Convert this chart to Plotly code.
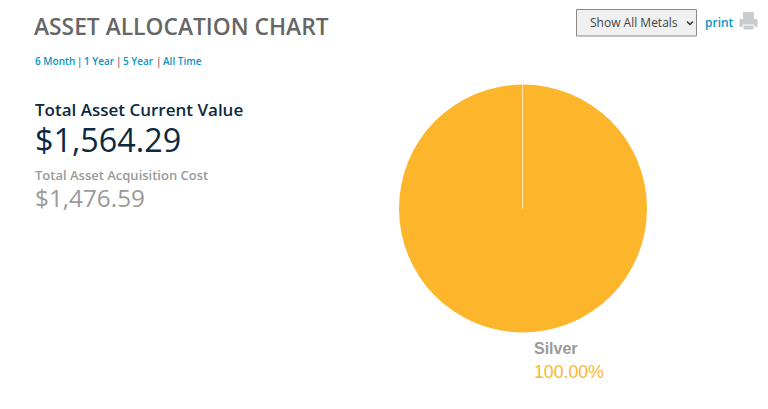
import plotly.graph_objects as go

W, H = 768, 409

# Data
metals = ["Silver"]
allocation_pct = [100.00]
slice_colors = ["#FDB52B"]
title_text = "ASSET ALLOCATION CHART"
range_links = ["6 Month", "1 Year", "5 Year", "All Time"]
current_label = "Total Asset Current Value"
current_value = "$1,564.29"
cost_label = "Total Asset Acquisition Cost"
cost_value = "$1,476.59"
dropdown_label = "Show All Metals"
print_label = "print"

BLUE = "#0A94C4"
NAVY = "#0B2A42"
GREY = "#9A9A9A"
SANS = "Open Sans"
ARIAL = "Liberation Sans"


def px(x):
    return x / W


def py(y):
    return 1 - y / H


fig = go.Figure(
    go.Pie(
        labels=metals,
        values=allocation_pct,
        marker=dict(colors=slice_colors, line=dict(width=0)),
        textinfo="none",
        sort=False,
        direction="clockwise",
        rotation=0,
        domain=dict(x=[px(399), px(647)], y=[py(333), py(84)]),
        showlegend=False,
    )
)


def text(x, y, s, size, color, family=SANS, weight=400):
    fig.add_annotation(
        x=px(x), y=py(y), xref="paper", yref="paper", text=s,
        showarrow=False, xanchor="left", yanchor="middle",
        font=dict(size=size, color=color, family=family, weight=weight), borderpad=0, borderwidth=0,
    )


text(34, 26.5, title_text, 22.8, "#666666", weight=600)

link_x = [34.5, 84, 123, 163]
sep_x = [76.5, 115.5, 155.5]
for x, label in zip(link_x, range_links):
    text(x, 61, label, 10, BLUE, weight=600)
for x in sep_x:
    text(x, 61, "|", 10, "#444444")

text(34.5, 109.5, current_label, 17, NAVY, weight=600)
text(34.5, 138.5, current_value, 32.3, NAVY)
text(34.5, 175, cost_label, 13, GREY, weight=600)
text(34.5, 197, cost_value, 24.3, GREY)

text(533.5, 348, metals[0], 16, GREY, family=ARIAL, weight=700)
text(533.5, 372, f"{allocation_pct[0]:.2f}%", 17.7, slice_colors[0], family=ARIAL)

# Dropdown control
fig.add_shape(type="rect", xref="paper", yref="paper", x0=px(576.5), x1=px(696.5), y0=py(9.5), y1=py(36),
              fillcolor="#F0F0F0", line=dict(color="#8A8A8A", width=1))
text(589.5, 23, dropdown_label, 12, "#444444")
fig.add_shape(type="path", xref="paper", yref="paper",
              path=f"M {px(687)} {py(21.5)} L {px(690)} {py(24.5)} L {px(693)} {py(21.5)}",
              line=dict(color="#333333", width=1.5))
text(705, 22, print_label, 12, BLUE, weight=600)

# Printer icon
icon = "#C8CCCE"
fig.add_shape(type="rect", xref="paper", yref="paper", x0=px(743), x1=px(754), y0=py(12), y1=py(19),
              fillcolor=icon, line=dict(width=0))
fig.add_shape(type="rect", xref="paper", yref="paper", x0=px(739.5), x1=px(757.5), y0=py(19), y1=py(27),
              fillcolor=icon, line=dict(width=0))
fig.add_shape(type="rect", xref="paper", yref="paper", x0=px(743), x1=px(754), y0=py(25), y1=py(30),
              fillcolor=icon, line=dict(color="#FFFFFF", width=1))

# Seam of the single full-circle slice, from top to centre
fig.add_shape(type="line", xref="paper", yref="paper", x0=px(522.5), x1=px(522.5), y0=py(84), y1=py(208.5),
              line=dict(color="#FFE3AE", width=1.2))

fig.update_layout(
    width=W, height=H, margin=dict(l=0, r=0, t=0, b=0),
    paper_bgcolor="#FFFFFF", plot_bgcolor="#FFFFFF", font=dict(family=SANS),
)
fig.write_html("out.html", config={"displayModeBar": False},
               post_script="document.body.style.margin='0';")
